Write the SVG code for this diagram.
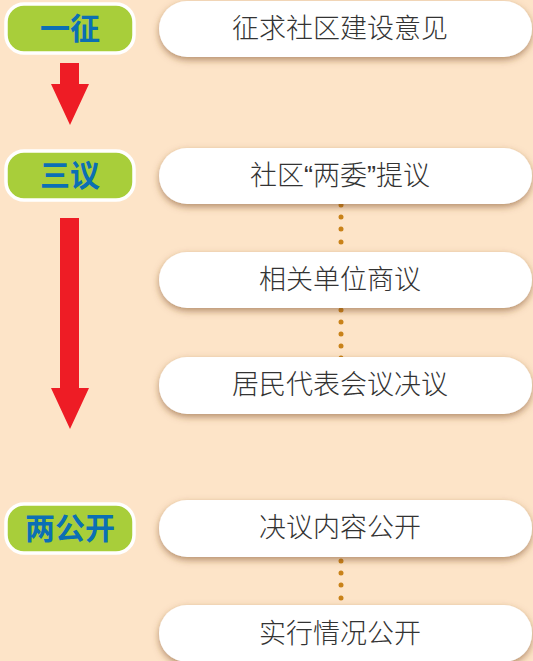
<svg xmlns="http://www.w3.org/2000/svg" width="533" height="661" viewBox="0 0 533 661">
<style>
.badge rect{fill:#A8CE3A;stroke:#FFFFFF;stroke-width:3.5}
.badge text{font-family:"Noto Sans CJK SC","Noto Sans",sans-serif;font-weight:bold;font-size:30px;fill:#0B6FB4;text-anchor:middle}
.box rect{fill:#FFFFFF;filter:url(#sh)}
.box text{font-family:"Noto Sans CJK SC","Noto Sans",sans-serif;font-weight:300;font-size:27px;fill:#333333;text-anchor:middle}
.q{font-family:"Liberation Sans",sans-serif}
.dot{fill:#C98219}
.arrow{fill:#EE1C25}
</style>
<defs>
<filter id="sh" x="-10%" y="-30%" width="120%" height="170%">
<feDropShadow dx="0" dy="3" stdDeviation="3.5" flood-color="#7a4a20" flood-opacity="0.55"/>
</filter>
</defs>
<rect width="533" height="661" fill="#FDE4C8"/>
<g id="connectors">
<polygon class="arrow" points="60,63 79,63 79,84 89,84 70,125 51,84 60,84"/>
<polygon class="arrow" points="60,218 79,218 79,388 89,388 70,429 51,388 60,388"/>
<circle class="dot" cx="341" cy="205" r="2.5"/>
<circle class="dot" cx="341" cy="217" r="2.5"/>
<circle class="dot" cx="341" cy="229" r="2.5"/>
<circle class="dot" cx="341" cy="242" r="2.5"/>
<circle class="dot" cx="341" cy="310" r="2.5"/>
<circle class="dot" cx="341" cy="322" r="2.5"/>
<circle class="dot" cx="341" cy="334" r="2.5"/>
<circle class="dot" cx="341" cy="346" r="2.5"/>
<circle class="dot" cx="341" cy="358" r="2.5"/>
<circle class="dot" cx="341" cy="561" r="2.5"/>
<circle class="dot" cx="341" cy="573" r="2.5"/>
<circle class="dot" cx="341" cy="585" r="2.5"/>
<circle class="dot" cx="341" cy="598" r="2.5"/>
</g>
<g id="badge-yizheng" class="badge">
<rect x="6" y="4" width="128" height="49" rx="18"/>
<text x="70" y="39">一征</text>
</g>
<g id="badge-sanyi" class="badge">
<rect x="6" y="151" width="128" height="49" rx="18"/>
<text x="70" y="186">三议</text>
</g>
<g id="badge-lianggongkai" class="badge">
<rect x="6" y="504" width="128" height="49" rx="18"/>
<text x="70" y="539">两公开</text>
</g>
<g id="box1" class="box">
<rect x="159" y="1" width="373" height="56" rx="28"/>
<text x="340" y="38">征求社区建设意见</text>
</g>
<g id="box2" class="box">
<rect x="159" y="148" width="373" height="56" rx="28"/>
<text x="340" y="185">社区<tspan class="q">“</tspan>两委<tspan class="q">”</tspan>提议</text>
</g>
<g id="box3" class="box">
<rect x="159" y="252" width="373" height="56" rx="28"/>
<text x="340" y="289">相关单位商议</text>
</g>
<g id="box4" class="box">
<rect x="159" y="357" width="373" height="57" rx="28"/>
<text x="340" y="394">居民代表会议决议</text>
</g>
<g id="box5" class="box">
<rect x="159" y="500" width="373" height="57" rx="28"/>
<text x="340" y="537">决议内容公开</text>
</g>
<g id="box6" class="box">
<rect x="159" y="605" width="373" height="57" rx="28"/>
<text x="340" y="643">实行情况公开</text>
</g>
</svg>
